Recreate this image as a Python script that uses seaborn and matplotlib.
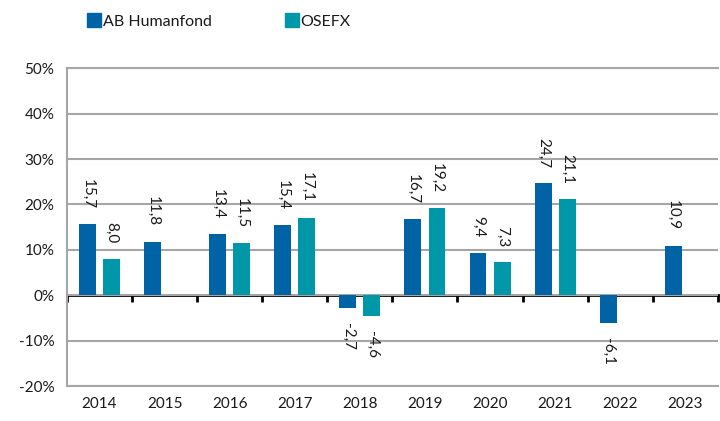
import matplotlib
matplotlib.use("Agg")
import matplotlib.pyplot as plt
from matplotlib.lines import Line2D
import pandas as pd
import seaborn as sns

years = ["2014", "2015", "2016", "2017", "2018", "2019", "2020", "2021", "2022", "2023"]
humanfond = [15.7, 11.8, 13.4, 15.4, -2.7, 16.7, 9.4, 24.7, -6.1, 10.9]
osefx = [8.0, None, 11.5, 17.1, -4.6, 19.2, 7.3, 21.1, None, None]
series = ["AB Humanfond", "OSEFX"]
colors = ["#0063A6", "#0097A9"]
y_ticks = [-20, -10, 0, 10, 20, 30, 40, 50]

df = pd.DataFrame({"year": years, series[0]: humanfond, series[1]: osefx})
df = df.melt(id_vars="year", var_name="series", value_name="value").dropna()

sns.set_style("white")
plt.rcParams["font.family"] = ["Lato", "DejaVu Sans"]
text_color = "#1a1a1a"
grid_color = "#a6a6a6"

fig = plt.figure(figsize=(7.2, 4.21), dpi=100)
ax = fig.add_axes([0.093, 0.083, 0.904, 0.755])

sns.barplot(
    data=df, x="year", y="value", hue="series", order=years, hue_order=series,
    palette=colors, saturation=1, width=0.74, gap=0.3, linewidth=0,
    ax=ax, legend=False,
)

for cont in ax.containers:
    labels = [f"{v:.1f}".replace(".", ",") for v in cont.datavalues]
    ax.bar_label(cont, labels=labels, padding=11, rotation=270,
                 fontsize=11, color=text_color)

ax.set_ylim(-20, 50)
ax.set_xlim(-0.5, len(years) - 0.5)
ax.set_yticks(y_ticks)
ax.set_yticklabels([f"{t}%" for t in y_ticks], fontsize=11, color=text_color)
ax.yaxis.grid(True, color=grid_color, linewidth=1.5)
ax.set_axisbelow(True)
ax.tick_params(axis="y", length=5, width=1.5, color=grid_color, direction="out", pad=4)
ax.tick_params(axis="x", length=0, labelsize=11, labelcolor=text_color, pad=8)
ax.set_xlabel("")
ax.set_ylabel("")
for side in ["left", "bottom", "top"]:
    ax.spines[side].set_color(grid_color)
    ax.spines[side].set_linewidth(1.5)
ax.spines["right"].set_visible(False)

# zero line with category boundary ticks
zero = ax.secondary_xaxis(20 / 70)
zero.set_xticks([i - 0.5 for i in range(len(years) + 1)])
zero.set_xticklabels([])
zero.tick_params(length=5, width=2, color="black", direction="out")
zero.spines["bottom"].set_color("black")
zero.spines["bottom"].set_linewidth(2)

handles = [Line2D([], [], marker="s", linestyle="", markersize=10,
                  markerfacecolor=c, markeredgecolor=c) for c in colors]
fig.legend(handles, series, loc="upper left", bbox_to_anchor=(0.1, 1.0),
           ncol=2, frameon=False, fontsize=11.5, handletextpad=0.05,
           columnspacing=4.5, handlelength=1.0, labelcolor=text_color)

fig.savefig("out.png", dpi=100)
